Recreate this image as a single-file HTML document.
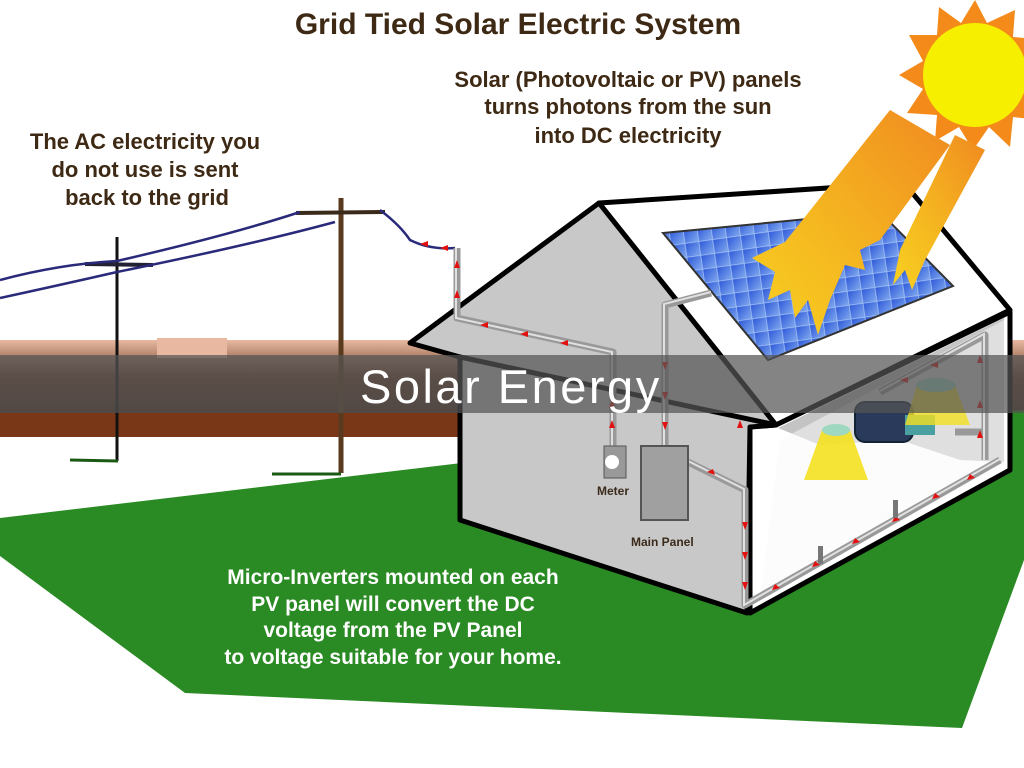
<!DOCTYPE html>
<html><head><meta charset="utf-8"><style>
html,body{margin:0;padding:0;background:#fff;width:1024px;height:768px;overflow:hidden}
svg{display:block}
text{font-family:"Liberation Sans",Arial,sans-serif;font-weight:bold}
</style></head><body>
<svg width="1024" height="768" viewBox="0 0 1024 768" xmlns="http://www.w3.org/2000/svg">
<defs>
<linearGradient id="hz" x1="0" y1="0" x2="0" y2="1"><stop offset="0" stop-color="#e8b9a0"/><stop offset="0.5" stop-color="#6b3c26"/><stop offset="1" stop-color="#4a2a1a"/></linearGradient>
<linearGradient id="ray" x1="1" y1="0" x2="0" y2="1"><stop offset="0" stop-color="#f08a20"/><stop offset="0.6" stop-color="#f5b820"/><stop offset="1" stop-color="#f8d020"/></linearGradient>
<linearGradient id="pv" x1="0" y1="0" x2="1" y2="1"><stop offset="0" stop-color="#2a55d8"/><stop offset="1" stop-color="#7fa8ee"/></linearGradient>
<pattern id="grid" width="14" height="14" patternUnits="userSpaceOnUse" patternTransform="rotate(-8)"><rect width="14" height="14" fill="url(#pv)"/><path d="M0 0H14M0 0V14" stroke="#a8c4f4" stroke-width="1.5"/></pattern>
</defs>
<!-- horizon -->
<rect x="0" y="340" width="1024" height="75" fill="url(#hz)"/>
<rect x="157" y="338" width="70" height="20" fill="#e8b9a0"/>
<rect x="0" y="413" width="1024" height="24" fill="#7a3718"/>
<!-- lawn -->
<polygon points="0,518 470,462 1024,410 1024,560 962,728 185,693 0,556" fill="#2a8a23"/>
<!-- poles -->
<line x1="117" y1="237" x2="117" y2="461" stroke="#111" stroke-width="3"/>
<line x1="70" y1="460" x2="118" y2="461" stroke="#1a5a14" stroke-width="3"/>
<line x1="85" y1="264" x2="153" y2="265" stroke="#223" stroke-width="4"/>
<line x1="341" y1="198" x2="341" y2="473" stroke="#5a3a1e" stroke-width="5"/>
<line x1="272" y1="474" x2="341" y2="474" stroke="#1a5a14" stroke-width="3"/>
<line x1="296" y1="213" x2="385" y2="212" stroke="#3a2a1a" stroke-width="4"/>
<path d="M0 280 Q60 264 117 261 Q230 235 300 212" stroke="#2a2a7a" stroke-width="2.5" fill="none"/>
<path d="M0 298 Q60 285 117 272 Q250 245 335 222" stroke="#2a2a7a" stroke-width="2.5" fill="none"/>
<path d="M380 210 Q400 225 410 240 Q430 250 455 248" stroke="#2a2a7a" stroke-width="2.5" fill="none"/>
<!-- sun -->
<g transform="translate(975,75)">
<polygon points="0,-75 12,-52 40,-65 38,-38 70,-35 52,-12 75,5 50,18 65,45 38,42 35,72 14,52 -2,75 -16,52 -40,66 -38,40 -68,38 -52,14 -76,0 -52,-14 -66,-40 -38,-40 -36,-68 -14,-52" fill="#f48a1a"/>
<circle r="52" fill="#f6f000"/>
</g>
<!-- roof right face -->
<polygon points="599,203 904,183 1010,310 776,425" fill="#fff" stroke="#000" stroke-width="5" stroke-linejoin="round"/>
<!-- solar panel -->
<polygon points="663,233 880,212 953,286 768,360" fill="url(#grid)" stroke="#333" stroke-width="2"/>
<!-- rays -->
<polygon points="890,110 950,145 880,240 860,250 865,270 845,265 830,300 818,335 808,300 795,318 790,290 768,300 775,272 752,258 785,242" fill="url(#ray)"/>
<polygon points="955,135 985,150 925,260 912,290 905,270 893,285 900,250" fill="url(#ray)"/>
<!-- side interior -->
<polygon points="750,427 776,425 1010,312 1010,470 750,613" fill="#fff" stroke="#000" stroke-width="5" stroke-linejoin="round"/>
<polygon points="778,428 1004,318 1004,462 960,460 900,440 820,445" fill="#c4c4c4"/>
<polygon points="780,440 1004,320 1004,465 760,600" fill="#fafafa" opacity="0.5"/>
<!-- TV -->
<rect x="855" y="402" width="58" height="40" rx="10" fill="#2a3a5a" stroke="#123" stroke-width="2"/>
<rect x="905" y="415" width="30" height="20" fill="#4aa0a0"/>
<!-- lamps -->
<polygon points="822,430 850,430 868,480 804,480" fill="#f4e020" opacity="0.9"/>
<ellipse cx="836" cy="430" rx="14" ry="6" fill="#9fd8c0"/>
<polygon points="917,385 955,385 970,425 905,425" fill="#f4e020" opacity="0.8"/>
<ellipse cx="936" cy="385" rx="20" ry="7" fill="#9fd8c0"/>
<!-- front gable & wall -->
<polygon points="599,203 410,343 460,357 460,520 747,613 750,427 776,425" fill="#c8c8c8" stroke="#000" stroke-width="5" stroke-linejoin="round"/>
<line x1="460" y1="357" x2="776" y2="425" stroke="#000" stroke-width="5"/>
<!-- conduits -->
<g fill="none" stroke="#999" stroke-width="7" stroke-linejoin="round">
<path d="M457 248 V318 L613 352 V450"/>
<path d="M711 293 L665 305 V448"/>
<path d="M688 462 L745 490 V605 L1000 460"/>
<path d="M880 392 L985 335 V460 M955 432 L985 432"/>
</g>
<g fill="none" stroke="#e0e0e0" stroke-width="2">
<path d="M456 248 V318 L612 352 V450"/>
<path d="M711 292 L664 304 V448"/>
<path d="M688 461 L744 489 V605 L1000 459"/>
<path d="M880 391 L984 334 V460"/>
</g>
<g fill="#e31010">
<path d="M457 260 l-3 8 h6z M457 290 l-3 8 h6z M612 400 l-3 8 h6z M612 420 l-3 8 h6z M740 420 l-3 8 h6z M980 355 l-3 8 h6z M980 400 l-3 8 h6z M980 430 l-3 8 h6z"/>
<path d="M665 370 l-3 -8 h6z M665 400 l-3 -8 h6z M665 430 l-3 -8 h6z M745 530 l-3 -8 h6z M745 560 l-3 -8 h6z M745 590 l-3 -8 h6z"/>
<path d="M480 325 l8 -3 v6z M520 334 l8 -3 v6z M560 343 l8 -3 v6z M420 244 l8 -3 v6z M440 248 l8 -3 v6z M930 365 l8 -3 v6z M900 380 l8 -3 v6z"/>
<path d="M780 588 l-8 2 l3 -6z M820 565 l-8 2 l3 -6z M860 542 l-8 2 l3 -6z M900 520 l-8 2 l3 -6z M940 497 l-8 2 l3 -6z M975 478 l-8 2 l3 -6z M715 475 l-8 -3 l6 -3z"/>
</g>
<!-- meter & panel -->
<rect x="604" y="446" width="22" height="32" fill="#999" stroke="#555"/>
<circle cx="612" cy="462" r="7" fill="#fff"/>
<rect x="641" y="446" width="47" height="74" fill="#a0a0a0" stroke="#555" stroke-width="2"/>
<rect x="818" y="546" width="5" height="18" fill="#777"/>
<rect x="893" y="500" width="5" height="18" fill="#777"/>
<text x="597" y="495" font-size="12" fill="#3a2a1a">Meter</text>
<text x="631" y="546" font-size="12" fill="#3a2a1a">Main Panel</text>
<!-- overlay band -->
<rect x="0" y="355" width="1024" height="58" fill="#555" opacity="0.72"/>
<text x="360" y="403" font-size="47" fill="#fff" letter-spacing="2.5" style="font-weight:normal">Solar Energy</text>
<!-- texts -->
<text x="518" y="34" font-size="30" fill="#3d2914" text-anchor="middle">Grid Tied Solar Electric System</text>
<g font-size="22" fill="#3d2914" text-anchor="middle">
<text x="628" y="87">Solar (Photovoltaic or PV) panels</text>
<text x="628" y="114">turns photons from the sun</text>
<text x="628" y="143">into DC electricity</text>
<text x="145" y="149">The AC electricity you</text>
<text x="145" y="177">do not use is sent</text>
<text x="147" y="205">back to the grid</text>
</g>
<g font-size="21" fill="#fff" text-anchor="middle">
<text x="393" y="584">Micro-Inverters mounted on each</text>
<text x="393" y="611">PV panel will convert the DC</text>
<text x="393" y="637">voltage from the PV Panel</text>
<text x="393" y="664">to voltage suitable for your home.</text>
</g>
</svg>
</body></html>
